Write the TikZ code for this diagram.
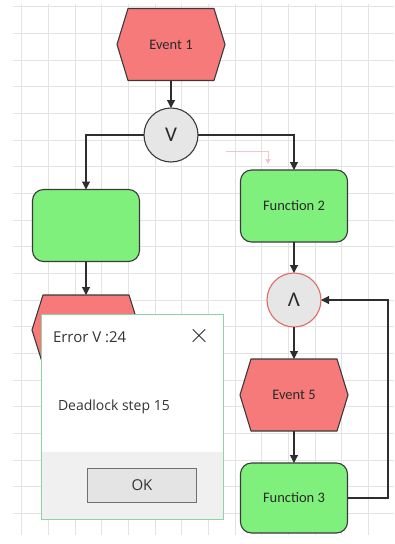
\documentclass[tikz,border=0pt]{standalone}
\usepackage{fontspec}
\setmainfont{Carlito}
\newfontfamily\uifont{Open Sans}
\usetikzlibrary{arrows.meta}

\definecolor{evfill}{HTML}{F77A7A}
\definecolor{fnfill}{HTML}{80F07C}
\definecolor{edge}{HTML}{3A3A3A}
\definecolor{linec}{HTML}{2E2E2E}
\definecolor{gatefill}{HTML}{E6E6E6}
\definecolor{andc}{HTML}{E06A6A}
\definecolor{gridc}{HTML}{E3E3E3}
\definecolor{txt}{HTML}{2A2A2A}
\definecolor{dlgborder}{HTML}{8AD4A6}
\definecolor{dlgfoot}{HTML}{F0F0F0}
\definecolor{dlgtext}{HTML}{333333}
\definecolor{btnborder}{HTML}{707070}
\definecolor{btnfill}{HTML}{E4E4E4}
\definecolor{faintred}{HTML}{F4C6CA}

\pgfdeclarelayer{bg}
\pgfsetlayers{bg,main}

% hexagonal event outline around a (borderless) rectangular node
\newcommand\evhex[1]{%
  \begin{pgfonlayer}{bg}
    \filldraw[fill=evfill, draw=edge, line width=1.1pt, line join=round]
      (#1.north west) -- (#1.north east) -- ([xshift=11pt]#1.east)
      -- (#1.south east) -- (#1.south west) -- ([xshift=-11pt]#1.west) -- cycle;
  \end{pgfonlayer}}

\begin{document}
\begin{tikzpicture}[x=1pt, y=-1pt,
  every node/.style={inner sep=0pt, outer sep=0pt},
  lbl/.style={font=\fontsize{14.5}{16}\selectfont, text=txt},
  ev/.style={lbl, minimum width=86pt, minimum height=72pt},
  fn/.style={lbl, draw=edge, fill=fnfill, line width=1.1pt, rounded corners=11pt,
             minimum width=107pt, minimum height=72pt},
  gate/.style={circle, draw=edge, fill=gatefill, line width=1.1pt, minimum size=54pt,
               font=\fontsize{21}{21}\selectfont, text=txt},
  link/.style={draw=linec, line width=1.1pt, -{Triangle[length=8pt,width=8pt]}},
  uitext/.style={text=dlgtext, font=\uifont\fontsize{#1}{#1}\selectfont},
]
\useasboundingbox (0,0) rectangle (394,544);

% canvas grid
\begin{pgfonlayer}{bg}
  \fill[white] (0,0) rectangle (394,544);
  \foreach \i in {0,...,13}
    \draw[gridc, line width=0.8pt] ({21.67+26.67*\i},4) -- ({21.67+26.67*\i},535);
  \foreach \j in {0,...,19}
    \draw[gridc, line width=0.8pt] (13,{6.67+26.67*\j}) -- (394,{6.67+26.67*\j});
\end{pgfonlayer}

% process chain
\node[ev] (e1) at (171,44.5) {Event 1};
\evhex{e1}
\node[gate] (or) at (171,135) {V};
\node[fn] (f1) at (86,225.5) {};
\node[ev, minimum height=70pt] (e2) at (86,330) {};
\evhex{e2}
\node[fn] (f2) at (294,206) {Function 2};
\node[gate, draw=andc] (and) at (294,300) {Λ};
\node[ev] (e5) at (294,395) {Event 5};
\evhex{e5}
\node[fn, minimum height=70pt] (f3) at (294,498) {Function 3};
\coordinate (fb) at (388,400);

\draw[link] (e1.south) -- (or.north);
\draw[link] (or.west) -| (f1.north);
\draw[link] (or.east) -| (f2.north);
\draw[link] (f1.south) -- (e2.north);
\draw[link] (f2.south) -- (and.north);
\draw[link] (and.south) -- (e5.north);
\draw[link] (e5.south) -- (f3.north);
\draw[link] (f3.east) -| (fb) |- (and.east);

% faint drag hint
\draw[faintred, line width=1pt, -{Triangle[length=5pt,width=5pt]}]
  (226,151) -- (268,151) -- (268,164);

% error dialog
\node[draw=dlgborder, fill=white, line width=1pt, minimum width=182pt,
      minimum height=205pt, anchor=north west] (dlg) at (41,314) {};
\node[fill=dlgfoot, anchor=south, minimum width=181pt, minimum height=66.5pt]
  (foot) at ([yshift=0.5pt]dlg.south) {};
\node[uitext=15, anchor=base west] (title) at (53,342) {Error V :24};
\node[minimum size=12.5pt] (close) at (199,335.5) {};
\draw[dlgtext, line width=1pt] (close.north west) -- (close.south east)
                               (close.north east) -- (close.south west);
\node[uitext=14, anchor=base west] (msg) at (58,410) {Deadlock step 15};
\node[uitext=15, draw=btnborder, fill=btnfill, line width=1.5pt,
      minimum width=109pt, minimum height=34pt] (ok) at (142,485.5) {OK};
\end{tikzpicture}
\end{document}
